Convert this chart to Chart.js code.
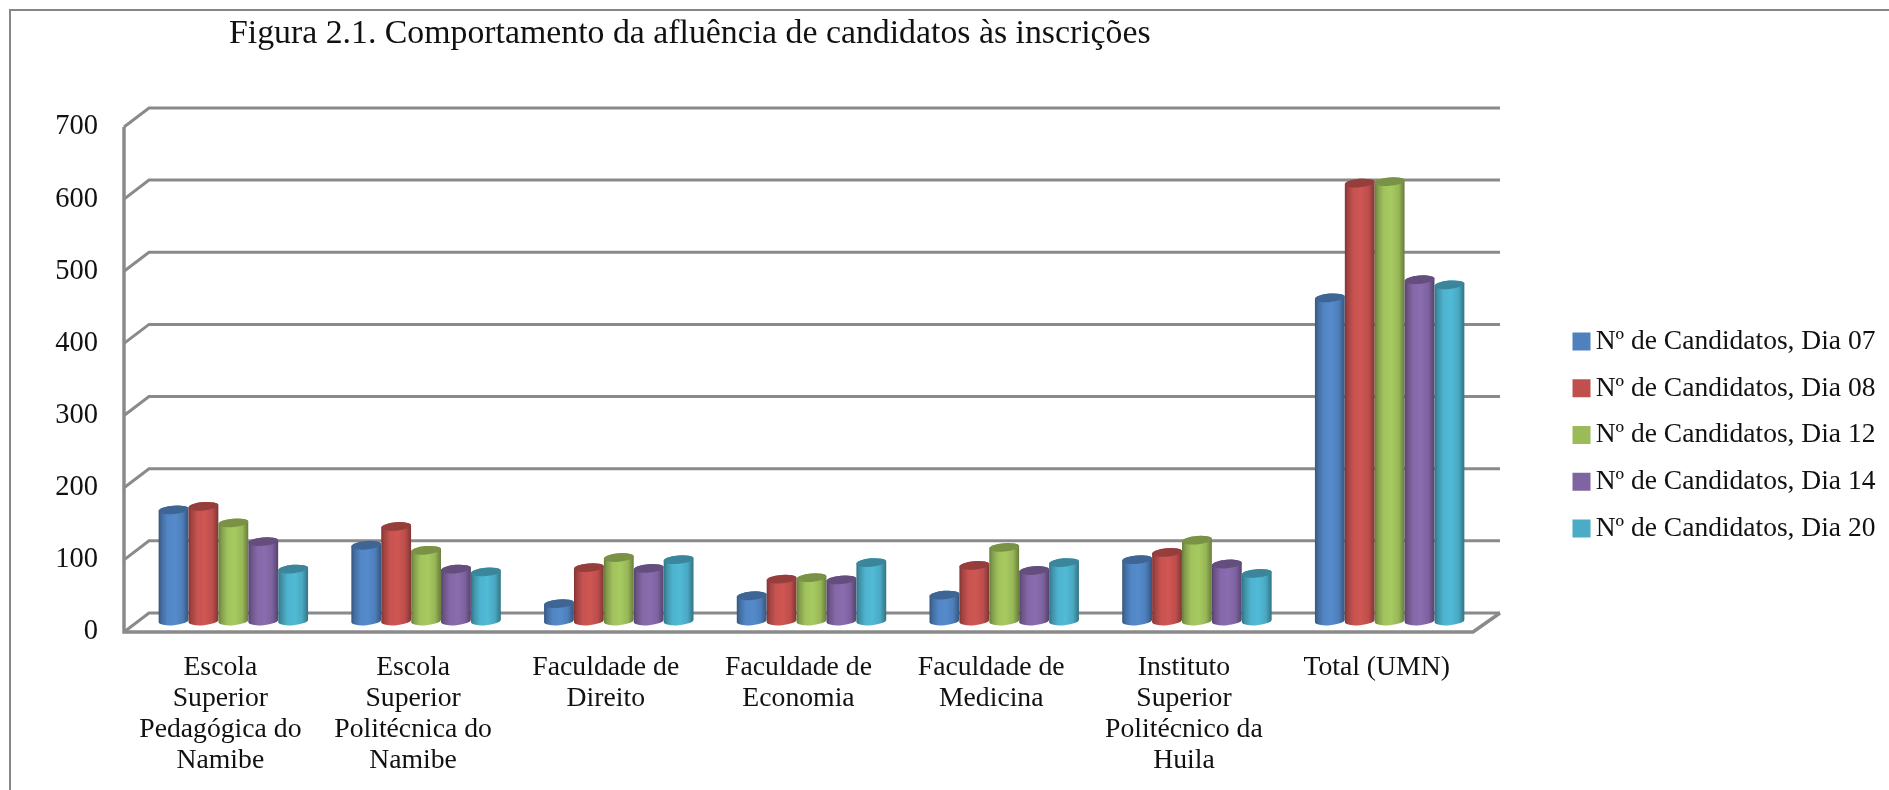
<!DOCTYPE html>
<html lang="pt">
<head>
<meta charset="utf-8">
<title>Figura 2.1</title>
<script src="https://cdn.jsdelivr.net/npm/chart.js@4"></script>
<style>
html,body{margin:0;padding:0;background:#fff;overflow:hidden}
canvas{display:block}
</style>
</head>
<body>
<canvas id="c" width="1889" height="790"></canvas>
<script>
const chartTitle = 'Figura 2.1. Comportamento da afluência de candidatos às inscrições';
const categories = [
  ['Escola','Superior','Pedagógica do','Namibe'],
  ['Escola','Superior','Politécnica do','Namibe'],
  ['Faculdade de','Direito'],
  ['Faculdade de','Economia'],
  ['Faculdade de','Medicina'],
  ['Instituto','Superior','Politécnico da','Huila'],
  'Total (UMN)'
];
const seriesNames = ['Nº de Candidatos, Dia 07','Nº de Candidatos, Dia 08','Nº de Candidatos, Dia 12','Nº de Candidatos, Dia 14','Nº de Candidatos, Dia 20'];
const dia07 = [154,105,24,35,36,85,448];
const dia08 = [159,131,74,58,77,95,607];
const dia12 = [136,98,88,60,102,112,609];
const dia14 = [110,72,73,57,70,79,473];
const dia20 = [72,68,85,81,81,66,466];
const seriesValues = [dia07,dia08,dia12,dia14,dia20];
const seriesColors = ['#4F81BD','#C0504D','#9BBB59','#8064A2','#4BACC6'];
const yTicks = [0,100,200,300,400,500,600,700];

const FONT = '"Liberation Serif", serif';
const GRID = '#8a8a8a';
const DEPTH_L = 25, DEPTH_R = 27, DEPTH_Y = 19;
const BAR_DX = 13, BAR_DY = -11;

function shade(hex, f){
  const n = parseInt(hex.slice(1),16);
  const c = [n>>16&255, n>>8&255, n&255].map(v => Math.max(0,Math.min(255,Math.round(v*f))));
  return 'rgb('+c.join(',')+')';
}

const scene = {
  id:'scene',
  beforeLayout(chart){
    const lg = chart.legend;
    if(lg && !lg._wrapped){
      const fit = lg.fit;
      lg.fit = function(){ fit.call(this); this.width = 416; };
      lg._wrapped = true;
    }
  },
  afterLayout(chart){
    chart.titleBlock.left = 229;
    const lg = chart.legend;
    const w = lg.right - lg.left;
    lg.left = 1581 - lg.options.labels.padding;
    lg.right = lg.left + w;
    lg.top += 40; lg.bottom += 40;
  },
  beforeDraw(chart){
    const c = chart.ctx;
    c.save();
    c.strokeStyle = '#868686'; c.lineWidth = 2;
    c.beginPath(); c.moveTo(10,790); c.lineTo(10,10); c.lineTo(1889,10); c.stroke();
    c.restore();
  },
  beforeDatasetsDraw(chart){
    const c = chart.ctx, y = chart.scales.y, a = chart.chartArea;
    c.save();
    c.strokeStyle = GRID; c.lineWidth = 3; c.lineJoin = 'miter';
    for(const t of y.ticks){
      const p = y.getPixelForValue(t.value);
      c.beginPath();
      c.moveTo(a.left,p); c.lineTo(a.left+DEPTH_L,p-DEPTH_Y); c.lineTo(a.right+DEPTH_R,p-DEPTH_Y);
      c.stroke();
    }
    const b = y.getPixelForValue(0);
    c.beginPath();
    c.moveTo(a.left,y.getPixelForValue(700)); c.lineTo(a.left,b);
    c.lineTo(a.right,b); c.lineTo(a.right+DEPTH_R,b-DEPTH_Y);
    c.lineWidth = 3.5; c.stroke();
    // cylinders, taken from the bar elements positioned by the library
    chart.data.datasets.forEach((ds,i) => {
      chart.getDatasetMeta(i).data.forEach(el => {
        const {x,y:top,base,width} = el.getProps(['x','y','base','width'],true);
        cylinder(c, x+BAR_DX, top+BAR_DY, base+BAR_DY, width, ds.backgroundColor);
      });
    });
    c.restore();
  },
  beforeDatasetDraw(){ return false; }
};

function cylinder(c,x,top,base,w,col){
  const rx = w/2, ry = 4.2, tilt = -0.085;
  const g = c.createLinearGradient(x-rx,0,x+rx,0);
  g.addColorStop(0,   shade(col,.66));
  g.addColorStop(.1,  shade(col,.84));
  g.addColorStop(.3,  shade(col,1.04));
  g.addColorStop(.55, shade(col,1.08));
  g.addColorStop(.8,  shade(col,.98));
  g.addColorStop(1,   shade(col,.66));
  c.beginPath();
  c.ellipse(x,base,rx,ry,tilt,0,Math.PI);
  c.ellipse(x,top,rx,ry,tilt,Math.PI,Math.PI*2);
  c.closePath();
  c.fillStyle = g; c.fill();
  c.beginPath();
  c.ellipse(x,top,rx,ry,tilt,0,Math.PI*2);
  c.fillStyle = shade(col,.78); c.fill();
}

new Chart(document.getElementById('c'),{
  type:'bar',
  data:{
    labels:categories,
    datasets:seriesNames.map((n,i)=>({label:n,data:seriesValues[i],backgroundColor:seriesColors[i],borderWidth:0}))
  },
  plugins:[scene],
  options:{
    responsive:false,animation:false,
    layout:{padding:0},
    datasets:{bar:{categoryPercentage:.776,barPercentage:1}},
    plugins:{
      tooltip:{enabled:false},
      title:{display:true,text:chartTitle,align:'start',color:'#111',
        font:{family:FONT,size:33.8,weight:'normal',lineHeight:1.2},
        padding:{top:14,bottom:72.4}},
      legend:{display:true,position:'right',align:'center',
        labels:{usePointStyle:true,pointStyle:'rect',boxWidth:1,boxHeight:18,padding:19.2,color:'#111',
          font:{family:FONT,size:27.5}}}
    },
    scales:{
      x:{
        grid:{display:false},border:{display:false},
        afterFit(s){ s.height = 158; },
        ticks:{color:'#111',autoSkip:false,maxRotation:0,minRotation:0,padding:12,
          font:{family:FONT,size:27.7,lineHeight:1.125}}
      },
      y:{
        min:0,max:700,
        grid:{display:false},border:{display:false},
        afterFit(s){ s.width = 124; },
        afterBuildTicks(s){ s.ticks = yTicks.map(v=>({value:v})); },
        ticks:{color:'#111',padding:18,font:{family:FONT,size:28.5}}
      }
    }
  }
});
</script>
</body>
</html>
